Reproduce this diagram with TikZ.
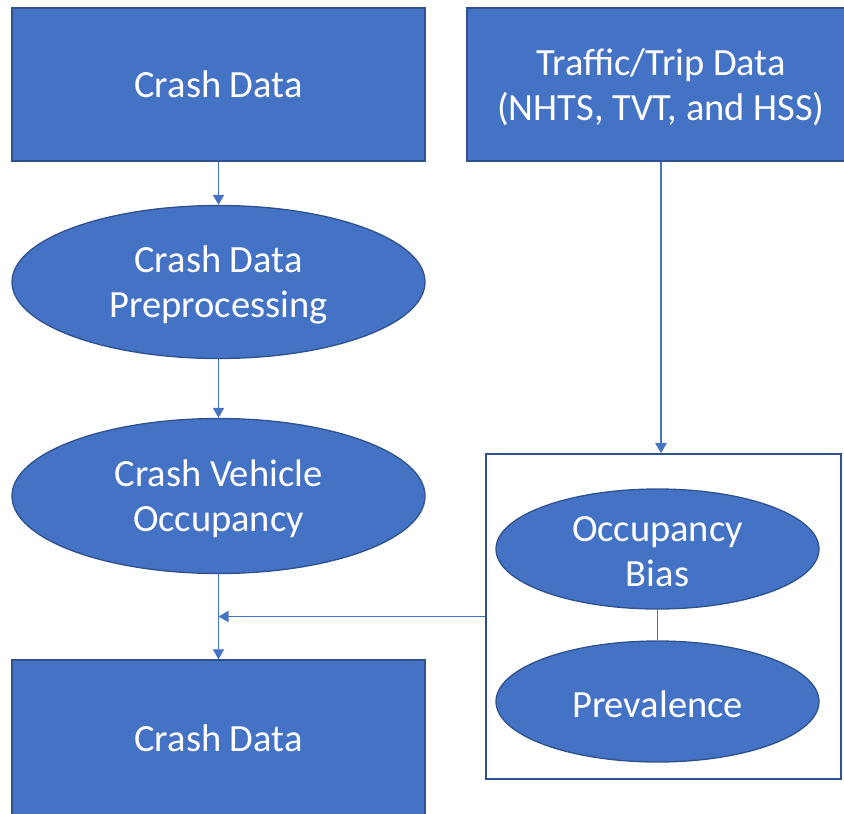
\documentclass[tikz,border=0pt]{standalone}
\usepackage{fontspec}
\setmainfont{Carlito}
\usetikzlibrary{shapes.geometric,arrows.meta}
\definecolor{boxfill}{HTML}{4472C4}
\definecolor{boxedge}{HTML}{2F528F}
\definecolor{linkcol}{HTML}{4472C4}
\tikzset{
  txt/.style={text=white, font=\fontsize{38.5}{45}\selectfont, align=center},
  lbl/.style={txt, yshift=-2.5pt},
  blockbox/.style={rectangle, draw=boxedge, line width=1.3pt, fill=boxfill, inner sep=0pt, txt},
  ovalbox/.style={ellipse, draw=boxedge, line width=1.3pt, fill=boxfill, inner sep=0pt},
  groupbox/.style={rectangle, draw=boxedge, line width=1.6pt, inner sep=0pt},
  conn/.style={draw=linkcol, line width=1.9pt, -{Triangle[width=11pt,length=10pt]}},
  plainconn/.style={draw=linkcol, line width=1.9pt}
}
\begin{document}
\begin{tikzpicture}[x=1pt,y=-1pt]
\useasboundingbox (0,0) rectangle (844,814);

% left column
\node[blockbox, minimum width=413pt, minimum height=153pt] (crash) at (218.5,84.5) {Crash Data};
\node[ovalbox, minimum width=413pt, minimum height=153pt,
      label={[lbl]center:Crash Data\\Preprocessing}] (prep) at (218.5,282) {};
\node[ovalbox, minimum width=413pt, minimum height=155pt,
      label={[lbl]center:Crash Vehicle\\Occupancy}] (occ) at (218.5,496) {};
\node[blockbox, minimum width=413pt, minimum height=156pt] (crashout) at (218.5,738) {Crash Data};

% right column
\node[blockbox, minimum width=388pt, minimum height=153pt,
      label={[lbl]center:Traffic/Trip Data\\(NHTS, TVT, and HSS)}] (trip) at (661,84.5) {};
\node[groupbox, minimum width=355pt, minimum height=325pt] (group) at (663.5,616.5) {};
\node[ovalbox, minimum width=323pt, minimum height=120pt,
      label={[lbl]center:Occupancy\\Bias}] (bias) at (657.5,549) {};
\node[ovalbox, minimum width=323pt, minimum height=121pt,
      label={[lbl]center:Prevalence}] (prev) at (657.5,701.5) {};

% connectors
\draw[conn] (crash.south) -- (prep.north);
\draw[conn] (prep.south) -- (occ.north);
\draw[conn] (occ.south) -- (crashout.north);
\draw[conn] (trip.south) -- (trip.south |- group.north);
\draw[conn] (group.west) -- (group.west -| occ.south);
\draw[plainconn] (bias.south) -- (prev.north);
\end{tikzpicture}
\end{document}
